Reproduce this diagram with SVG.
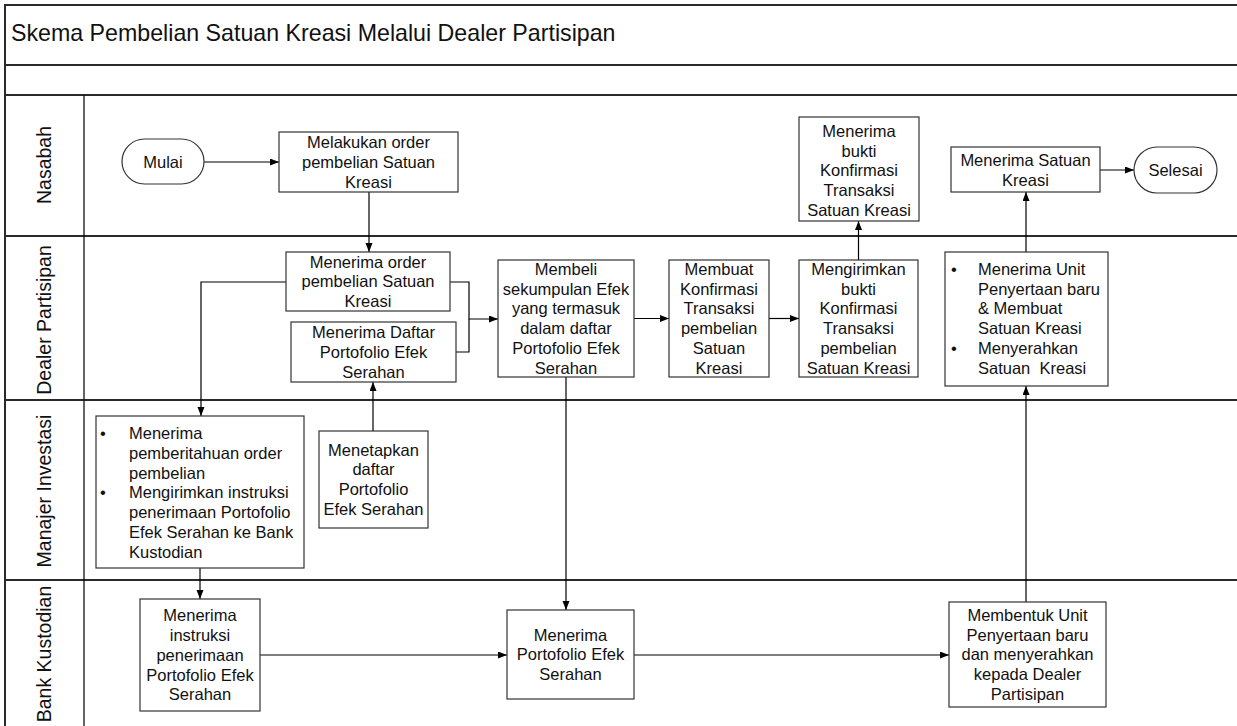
<svg xmlns="http://www.w3.org/2000/svg" width="1237" height="726" viewBox="0 0 1237 726">
<style>
text{font-family:"Liberation Sans",Arial,sans-serif;fill:#111}
.frame{stroke:#2a2a2a;stroke-width:2;fill:none}
.div{stroke:#111;stroke-width:1.3;fill:none}
.box{fill:#fff;stroke:#333;stroke-width:1.2}
.t{font-size:16.5px;text-anchor:middle}
.b{font-size:16.5px}
.lane{font-size:19.5px;text-anchor:middle}
.title{font-size:23.2px}
.con{fill:none;stroke:#000;stroke-width:1.2}
</style>
<defs>
<marker id="ah" markerUnits="userSpaceOnUse" markerWidth="10" markerHeight="8" refX="9" refY="3.5" orient="auto">
<path d="M0,0 L9,3.5 L0,7 z" fill="#000"/>
</marker>
</defs>
<rect width="1237" height="726" fill="#fff"/>
<g id="frame">
<path class="frame" d="M5,726 V5 H1237 M5,65 H1237 M5,95 H1237 M5,236 H1237 M5,400 H1237 M5,580 H1237"/>
<path class="div" d="M84,95 V726"/>
<text class="title" x="11" y="41">Skema Pembelian Satuan Kreasi Melalui Dealer Partisipan</text>
<text class="lane" transform="translate(51,165) rotate(-90)">Nasabah</text>
<text class="lane" transform="translate(51,320) rotate(-90)">Dealer Partisipan</text>
<text class="lane" transform="translate(51,491) rotate(-90)">Manajer Investasi</text>
<text class="lane" transform="translate(51,654) rotate(-90)">Bank Kustodian</text>
</g>
<g id="connectors">
<path class="con" d="M204,162 H279" marker-end="url(#ah)"/>
<path class="con" d="M369,192 V252" marker-end="url(#ah)"/>
<path class="con" d="M286,282 H201 V416" marker-end="url(#ah)"/>
<path class="con" d="M450,282 H469 V319 H498" marker-end="url(#ah)"/>
<path class="con" d="M456,352 H469 V319"/>
<path class="con" d="M634,318.5 H669" marker-end="url(#ah)"/>
<path class="con" d="M769,318.5 H799" marker-end="url(#ah)"/>
<path class="con" d="M858.5,260 V221" marker-end="url(#ah)"/>
<path class="con" d="M1026,252 V192" marker-end="url(#ah)"/>
<path class="con" d="M1100,170 H1134" marker-end="url(#ah)"/>
<path class="con" d="M373,431 V382" marker-end="url(#ah)"/>
<path class="con" d="M566,377 V610" marker-end="url(#ah)"/>
<path class="con" d="M200,568 V599" marker-end="url(#ah)"/>
<path class="con" d="M260,655 H507" marker-end="url(#ah)"/>
<path class="con" d="M634,655 H949" marker-end="url(#ah)"/>
<path class="con" d="M1026,602 V386" marker-end="url(#ah)"/>
</g>
<g id="mulai">
<rect class="box" x="122" y="139" width="82" height="45" rx="22.5"/>
<text class="t" x="163" y="167.5">Mulai</text>
</g>
<g id="melakukan-order">
<rect class="box" x="279" y="132" width="179" height="60"/>
<text class="t" x="368.5" y="148"><tspan x="368.5">Melakukan order</tspan><tspan x="368.5" dy="19.8">pembelian Satuan</tspan><tspan x="368.5" dy="19.8">Kreasi</tspan></text>
</g>
<g id="menerima-bukti">
<rect class="box" x="799" y="117" width="120" height="104"/>
<text class="t" x="859" y="136.7"><tspan x="859">Menerima</tspan><tspan x="859" dy="19.8">bukti</tspan><tspan x="859" dy="19.8">Konfirmasi</tspan><tspan x="859" dy="19.8">Transaksi</tspan><tspan x="859" dy="19.8">Satuan Kreasi</tspan></text>
</g>
<g id="menerima-satuan">
<rect class="box" x="951" y="147" width="149" height="45"/>
<text class="t" x="1025.5" y="166.4"><tspan x="1025.5">Menerima Satuan</tspan><tspan x="1025.5" dy="19.8">Kreasi</tspan></text>
</g>
<g id="selesai">
<rect class="box" x="1134" y="147" width="83" height="46" rx="23"/>
<text class="t" x="1175.5" y="176">Selesai</text>
</g>
<g id="menerima-order">
<rect class="box" x="286" y="252" width="164" height="59"/>
<text class="t" x="368" y="267.5"><tspan x="368">Menerima order</tspan><tspan x="368" dy="19.8">pembelian Satuan</tspan><tspan x="368" dy="19.8">Kreasi</tspan></text>
</g>
<g id="menerima-daftar">
<rect class="box" x="291" y="322" width="165" height="60"/>
<text class="t" x="373.5" y="338"><tspan x="373.5">Menerima Daftar</tspan><tspan x="373.5" dy="19.8">Portofolio Efek</tspan><tspan x="373.5" dy="19.8">Serahan</tspan></text>
</g>
<g id="membeli">
<rect class="box" x="498" y="260" width="136" height="117"/>
<text class="t" x="566" y="274.8"><tspan x="566">Membeli</tspan><tspan x="566" dy="19.8">sekumpulan Efek</tspan><tspan x="566" dy="19.8">yang termasuk</tspan><tspan x="566" dy="19.8">dalam daftar</tspan><tspan x="566" dy="19.8">Portofolio Efek</tspan><tspan x="566" dy="19.8">Serahan</tspan></text>
</g>
<g id="membuat">
<rect class="box" x="669" y="260" width="100" height="117"/>
<text class="t" x="719" y="274.8"><tspan x="719">Membuat</tspan><tspan x="719" dy="19.8">Konfirmasi</tspan><tspan x="719" dy="19.8">Transaksi</tspan><tspan x="719" dy="19.8">pembelian</tspan><tspan x="719" dy="19.8">Satuan</tspan><tspan x="719" dy="19.8">Kreasi</tspan></text>
</g>
<g id="mengirimkan">
<rect class="box" x="799" y="260" width="119" height="117"/>
<text class="t" x="858.5" y="274.8"><tspan x="858.5">Mengirimkan</tspan><tspan x="858.5" dy="19.8">bukti</tspan><tspan x="858.5" dy="19.8">Konfirmasi</tspan><tspan x="858.5" dy="19.8">Transaksi</tspan><tspan x="858.5" dy="19.8">pembelian</tspan><tspan x="858.5" dy="19.8">Satuan Kreasi</tspan></text>
</g>
<g id="dealer-terima-unit">
<rect class="box" x="945" y="252" width="163" height="134"/>
<text class="b" x="951" y="274.8">•</text>
<text class="b" x="951" y="354">•</text>
<text class="b" x="978" y="274.8" xml:space="preserve"><tspan x="978">Menerima Unit</tspan><tspan x="978" dy="19.8">Penyertaan baru</tspan><tspan x="978" dy="19.8">&amp; Membuat</tspan><tspan x="978" dy="19.8">Satuan Kreasi</tspan><tspan x="978" dy="19.8">Menyerahkan</tspan><tspan x="978" dy="19.8">Satuan  Kreasi</tspan></text>
</g>
<g id="manajer-terima">
<rect class="box" x="96" y="416" width="208" height="152"/>
<text class="b" x="100" y="438.9">•</text>
<text class="b" x="100" y="498.3">•</text>
<text class="b" x="129" y="438.9"><tspan x="129">Menerima</tspan><tspan x="129" dy="19.8">pemberitahuan order</tspan><tspan x="129" dy="19.8">pembelian</tspan><tspan x="129" dy="19.8">Mengirimkan instruksi</tspan><tspan x="129" dy="19.8">penerimaan Portofolio</tspan><tspan x="129" dy="19.8">Efek Serahan ke Bank</tspan><tspan x="129" dy="19.8">Kustodian</tspan></text>
</g>
<g id="menetapkan">
<rect class="box" x="319" y="431" width="109" height="97"/>
<text class="t" x="373.5" y="455.6"><tspan x="373.5">Menetapkan</tspan><tspan x="373.5" dy="19.8">daftar</tspan><tspan x="373.5" dy="19.8">Portofolio</tspan><tspan x="373.5" dy="19.8">Efek Serahan</tspan></text>
</g>
<g id="menerima-instruksi">
<rect class="box" x="140" y="599" width="120" height="112"/>
<text class="t" x="200" y="621.2"><tspan x="200">Menerima</tspan><tspan x="200" dy="19.8">instruksi</tspan><tspan x="200" dy="19.8">penerimaan</tspan><tspan x="200" dy="19.8">Portofolio Efek</tspan><tspan x="200" dy="19.8">Serahan</tspan></text>
</g>
<g id="menerima-portofolio">
<rect class="box" x="507" y="610" width="127" height="89"/>
<text class="t" x="570.5" y="640.5"><tspan x="570.5">Menerima</tspan><tspan x="570.5" dy="19.8">Portofolio Efek</tspan><tspan x="570.5" dy="19.8">Serahan</tspan></text>
</g>
<g id="membentuk-unit">
<rect class="box" x="949" y="602" width="157" height="105"/>
<text class="t" x="1027.5" y="620.7"><tspan x="1027.5">Membentuk Unit</tspan><tspan x="1027.5" dy="19.8">Penyertaan baru</tspan><tspan x="1027.5" dy="19.8">dan menyerahkan</tspan><tspan x="1027.5" dy="19.8">kepada Dealer</tspan><tspan x="1027.5" dy="19.8">Partisipan</tspan></text>
</g>
</svg>
